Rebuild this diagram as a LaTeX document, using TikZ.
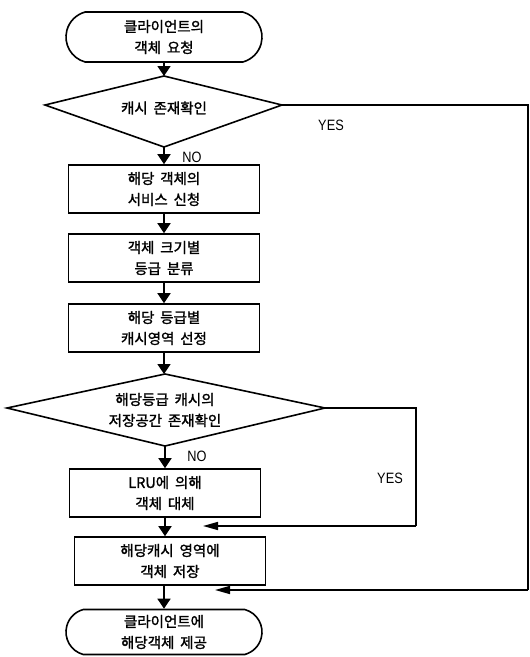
\documentclass[tikz,border=0pt]{standalone}
\usepackage{fontspec}
\setmainfont{Liberation Sans}
\newfontfamily\kr[FakeBold=1.5,WordSpace=1.8]{Noto Sans CJK KR}
\newfontfamily\lat[FakeStretch=0.85]{Liberation Sans}
\usetikzlibrary{arrows.meta,shapes.misc}
\begin{document}
\begin{tikzpicture}[x=1pt,y=-1pt,
  every node/.style={font=\kr\fontsize{14.5}{21}\selectfont, align=center, inner sep=0pt},
  box/.style={draw, line width=1.6pt, minimum width=191pt, minimum height=48pt},
  term/.style={draw, rounded rectangle, rounded rectangle arc length=150, line width=1.6pt, minimum width=196pt, minimum height=50pt},
  flow/.style={line width=1.6pt},
  varr/.style={line width=1.6pt, -{Triangle[width=13pt,length=10pt]}},
  harr/.style={line width=1.6pt, -{Triangle[width=8pt,length=15pt]}},
  lbl/.style={font=\lat\fontsize{15}{17}\selectfont}
]
\useasboundingbox (0,0) rectangle (530,657);

% start terminal
\node[term] (t1) at (164,37) {클라이언트의\\객체 요청};

% decision 1
\coordinate (d1t) at (164,76);
\coordinate (d1r) at (282,105);
\coordinate (d1b) at (164,147);
\coordinate (d1l) at (45,105);
\draw[flow] (d1t) -- (d1r) -- (d1b) -- (d1l) -- cycle;
\node (d1) at (164,108) {캐시 존재확인};

\node[box] (b1) at (164,189) {해당 객체의\\서비스 신청};
\node[box] (b2) at (164,258) {객체 크기별\\등급 분류};
\node[box] (b3) at (164,328) {해당 등급별\\캐시영역 선정};

% decision 2
\coordinate (d2t) at (165,374);
\coordinate (d2r) at (325,408);
\coordinate (d2b) at (165,446);
\coordinate (d2l) at (7,408);
\draw[flow] (d2t) -- (d2r) -- (d2b) -- (d2l) -- cycle;
\node (d2) at (165,410) {해당등급 캐시의\\저장공간 존재확인};

\node[box] (b4) at (165,493) {LRU에 의해\\객체 대체};
\node[box] (b5) at (170,561) {해당캐시 영역에\\객체 저장};
\node[term, minimum height=45pt] (t2) at (164,632) {클라이언트에\\해당객체 제공};

% vertical arrows
\draw[varr] (t1.south) -- (d1t);
\draw[varr] (d1b) -- (b1.north);
\draw[varr] (b1.south) -- (b2.north);
\draw[varr] (b2.south) -- (b3.north);
\draw[varr] (b3.south) -- (b3.south |- d2t);
\draw[varr] (d2b) -- (d2b |- b4.north);
\draw[varr] (b4.south) -- (b4.south |- b5.north);
\draw[varr] (t2.north |- b5.south) -- (t2.north);

% labels
\node[lbl] (no1) at (192,157) {NO};
\node[lbl] (no2) at (197,456) {NO};
\node[lbl] (yes1) at (331,125) {YES};
\node[lbl] (yes2) at (390,478) {YES};

% YES branch 1
\coordinate (r1) at (528,105);
\coordinate (r2) at (528,590);
\coordinate (j1) at (215,590);
\draw[flow] (d1r) -- (r1) -- (r2);
\draw[harr] (r2) -- (j1);

% YES branch 2
\coordinate (s1) at (416,408);
\coordinate (s2) at (416,526);
\coordinate (j2) at (203,526);
\draw[flow] (d2r) -- (s1) -- (s2);
\draw[harr] (s2) -- (j2);
\end{tikzpicture}
\end{document}
